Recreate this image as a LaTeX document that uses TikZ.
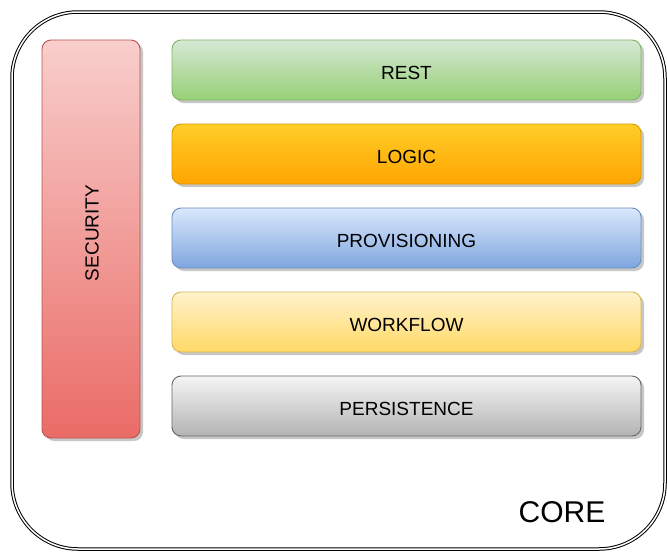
\documentclass[tikz,border=0pt]{standalone}
\usepackage{fontspec}
\setmainfont{Liberation Sans}
\usetikzlibrary{shadows}
\definecolor{restT}{HTML}{D5E8D4}\definecolor{restB}{HTML}{97D077}\definecolor{restD}{HTML}{82B366}
\definecolor{logT}{HTML}{FFCD28}\definecolor{logB}{HTML}{FFA500}\definecolor{logD}{HTML}{D79B00}
\definecolor{proT}{HTML}{DAE8FC}\definecolor{proB}{HTML}{7EA6E0}\definecolor{proD}{HTML}{6C8EBF}
\definecolor{wfT}{HTML}{FFF2CC}\definecolor{wfB}{HTML}{FFD966}\definecolor{wfD}{HTML}{D6B656}
\definecolor{perT}{HTML}{F5F5F5}\definecolor{perB}{HTML}{B3B3B3}\definecolor{perD}{HTML}{666666}
\definecolor{secT}{HTML}{F8CECC}\definecolor{secB}{HTML}{EA6B66}\definecolor{secD}{HTML}{B85450}
\tikzset{
  boxbase/.style={rectangle, rounded corners=9pt, line width=0.9pt, inner sep=0pt,
    drop shadow={shadow xshift=3pt, shadow yshift=-3pt, fill=black!22, opacity=1},
    font=\fontsize{19}{21}\selectfont, text=black},
  layer/.style={boxbase, minimum width=469pt, minimum height=60pt, text height=18pt, text depth=0pt},
  frame/.style={rectangle, draw=black, line width=1pt, double=white, double distance=1.5pt,
    rounded corners=66pt, minimum width=653pt, minimum height=537pt, inner sep=0pt},
}
\begin{document}
\begin{tikzpicture}[x=1pt,y=1pt]
\useasboundingbox[fill=white] (0,0) rectangle (667,-552);
\node[frame] (core) at (338.5,-280.5) {};
\node[font=\fontsize{30}{32}\selectfont, text=black] (corel) at (562,-512) {CORE};
\node[boxbase, minimum width=98pt, minimum height=398pt, draw=secD, top color=secT, bottom color=secB] (sec) at (91,-239) {};
\node[rotate=90, font=\fontsize{19}{21}\selectfont, text=black] (secl) at (92,-233) {SECURITY};
\node[layer, draw=restD, top color=restT, bottom color=restB] (rest) at (406.5,-70) {REST};
\node[layer, draw=logD, top color=logT, bottom color=logB] (logic) at (406.5,-154) {LOGIC};
\node[layer, draw=proD, top color=proT, bottom color=proB] (prov) at (406.5,-238) {PROVISIONING};
\node[layer, draw=wfD, top color=wfT, bottom color=wfB] (wf) at (406.5,-322) {WORKFLOW};
\node[layer, draw=perD, top color=perT, bottom color=perB] (pers) at (406.5,-406) {PERSISTENCE};
\end{tikzpicture}
\end{document}
